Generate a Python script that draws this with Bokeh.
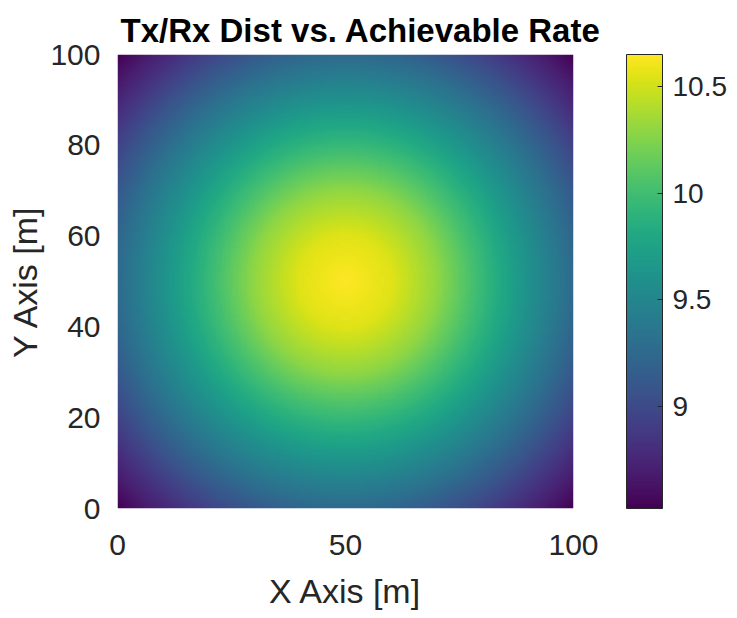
import numpy as np
from bokeh.plotting import figure
from bokeh.models import (LinearColorMapper, ColorBar, Range1d, FixedTicker, Title)
from bokeh.palettes import Viridis256
from bokeh.embed import file_html
from bokeh.resources import INLINE

# Radial profile: achievable rate vs Tx/Rx horizontal distance
dist_m = [0, 10, 20, 30, 40, 50, 60, 70.71]
rate = [10.65, 10.55, 10.30, 9.95, 9.60, 9.25, 8.88, 8.52]
tx_pos = [50, 50]
x_ticks = [0, 50, 100]
y_ticks = [0, 20, 40, 60, 80, 100]
cbar_ticks = [9, 9.5, 10, 10.5]
cbar_low, cbar_high = 8.52, 10.65

n = 200
xs = (np.arange(n) + 0.5) * 100.0 / n
X, Y = np.meshgrid(xs, xs)
D = np.hypot(X - tx_pos[0], Y - tx_pos[1])
Z = np.interp(D, dist_m, rate)

FONT = "Liberation Sans"
TXT = "#262626"

mapper = LinearColorMapper(palette=Viridis256, low=cbar_low, high=cbar_high)

p = figure(width=737, height=618, output_backend="svg", toolbar_location=None,
           x_range=Range1d(0, 100), y_range=Range1d(0, 100),
           min_border_left=117, min_border_right=164, min_border_top=54,
           min_border_bottom=110)
p.title = None
p.add_layout(Title(text="Tx/Rx Dist vs. Achievable Rate", align="left", offset=3,
                   text_font=FONT, text_font_size="33px", text_font_style="bold",
                   text_color="#000000", standoff=12), "above")
p.image(image=[Z], x=0, y=0, dw=100, dh=100, color_mapper=mapper)

p.grid.visible = False
p.outline_line_color = None
p.background_fill_color = "white"
p.border_fill_color = "white"

for ax in (p.xaxis, p.yaxis):
    ax.axis_line_color = None
    ax.major_tick_line_color = None
    ax.minor_tick_line_color = None
    ax.major_label_text_font = FONT
    ax.major_label_text_font_size = "30px"
    ax.major_label_text_color = TXT
    ax.axis_label_text_font = FONT
    ax.axis_label_text_font_size = "34px"
    ax.axis_label_text_color = TXT
    ax.axis_label_text_font_style = "normal"

p.xaxis.ticker = FixedTicker(ticks=x_ticks)
p.yaxis.ticker = FixedTicker(ticks=y_ticks)
p.xaxis.axis_label = "X Axis [m]"
p.yaxis.axis_label = "Y Axis [m]"
p.xaxis.major_label_standoff = 20
p.yaxis.major_label_standoff = 11
p.xaxis.axis_label_standoff = 14
p.yaxis.axis_label_standoff = 3

cb = ColorBar(color_mapper=mapper, width=36, height=454,
              ticker=FixedTicker(ticks=cbar_ticks),
              major_label_text_font=FONT, major_label_text_font_size="28px",
              major_label_text_color=TXT, label_standoff=10,
              major_tick_in=5, major_tick_out=0, major_tick_line_color="#262626",
              bar_line_color="#262626", bar_line_width=1,
              border_line_color=None, background_fill_color=None,
              padding=0, margin=0, location=(509, 0))
p.add_layout(cb, "center")

open("out.html", "w").write(file_html(p, INLINE))
